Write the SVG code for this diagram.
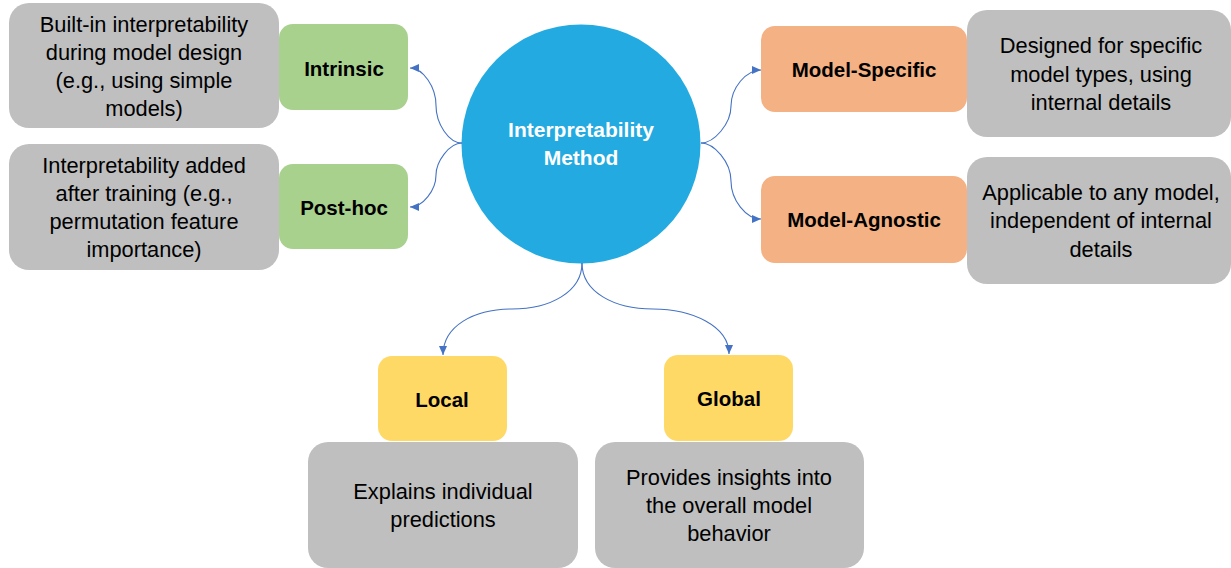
<svg xmlns="http://www.w3.org/2000/svg" width="1231" height="568" viewBox="0 0 1231 568">
<style>
.desc{fill:#BFBFBF}
.green{fill:#A9D18E}
.orange{fill:#F4B183}
.yellow{fill:#FFD966}
.t{font-family:"Liberation Sans",Arial,sans-serif;font-size:21.8px;fill:#000;text-anchor:middle}
.b{font-family:"Liberation Sans",Arial,sans-serif;font-size:20.5px;font-weight:bold;fill:#000;text-anchor:middle}
.w{font-family:"Liberation Sans",Arial,sans-serif;font-size:21px;font-weight:bold;fill:#fff;text-anchor:middle}
.c{fill:none;stroke:#4472C4;stroke-width:1.1;marker-end:url(#ah)}
</style>
<defs>
<marker id="ah" markerUnits="userSpaceOnUse" markerWidth="10" markerHeight="10" viewBox="0 0 10 10" refX="9" refY="5" orient="auto">
<path d="M0,1 L9,5 L0,9 Z" fill="#4472C4"/>
</marker>
</defs>
<rect width="1231" height="568" fill="#fff"/>
<g id="center">
<circle cx="581" cy="144" r="119.5" fill="#23AAE1"/>
<text class="w" x="581" y="137">Interpretability</text>
<text class="w" x="581" y="165">Method</text>
</g>
<g id="connectors">
<path class="c" d="M462,143 C449,143 436,124 436,105.5 C436,87 423,68 410,68"/>
<path class="c" d="M462,143 C449,143 436,162 436,175 C436,190 423,207 410,207"/>
<path class="c" d="M701,143 C714,143 731,124 731,106 C731,88 746,70 761,70"/>
<path class="c" d="M701,143 C714,143 731,162 731,181 C731,200 746,219 761,219"/>
<path class="c" d="M582,263 C582,292 550,309 512,309 C474,309 443,326 443,355"/>
<path class="c" d="M582,263 C582,292 614,309 653,309 C692,309 729,326 729,354"/>
</g>
<g id="intrinsic-desc">
<rect class="desc" x="9" y="3" width="270" height="125" rx="20"/>
<text class="t" x="144" y="32">Built-in interpretability</text>
<text class="t" x="144" y="60">during model design</text>
<text class="t" x="144" y="88">(e.g., using simple</text>
<text class="t" x="144" y="116">models)</text>
</g>
<g id="posthoc-desc">
<rect class="desc" x="9" y="144" width="270" height="126" rx="20"/>
<text class="t" x="144" y="173">Interpretability added</text>
<text class="t" x="144" y="201">after training (e.g.,</text>
<text class="t" x="144" y="229">permutation feature</text>
<text class="t" x="144" y="257">importance)</text>
</g>
<g id="intrinsic">
<rect class="green" x="279" y="24" width="129" height="86" rx="14"/>
<text class="b" x="344" y="76">Intrinsic</text>
</g>
<g id="posthoc">
<rect class="green" x="279" y="164" width="129" height="85" rx="14"/>
<text class="b" x="344" y="215">Post-hoc</text>
</g>
<g id="model-specific">
<rect class="orange" x="761" y="26" width="206" height="86" rx="14"/>
<text class="b" x="864" y="77">Model-Specific</text>
</g>
<g id="model-agnostic">
<rect class="orange" x="761" y="176" width="206" height="87" rx="14"/>
<text class="b" x="864" y="227">Model-Agnostic</text>
</g>
<g id="specific-desc">
<rect class="desc" x="967" y="10" width="264" height="127" rx="20"/>
<text class="t" x="1101" y="53">Designed for specific</text>
<text class="t" x="1101" y="82">model types, using</text>
<text class="t" x="1101" y="110">internal details</text>
</g>
<g id="agnostic-desc">
<rect class="desc" x="967" y="157" width="264" height="127" rx="20"/>
<text class="t" x="1101" y="200">Applicable to any model,</text>
<text class="t" x="1101" y="228">independent of internal</text>
<text class="t" x="1101" y="257">details</text>
</g>
<g id="local">
<rect class="yellow" x="378" y="356" width="129" height="85" rx="14"/>
<text class="b" x="442" y="407">Local</text>
</g>
<g id="global">
<rect class="yellow" x="664" y="355" width="129" height="86" rx="14"/>
<text class="b" x="729" y="406">Global</text>
</g>
<g id="local-desc">
<rect class="desc" x="308" y="442" width="270" height="126" rx="20"/>
<text class="t" x="443" y="499">Explains individual</text>
<text class="t" x="443" y="527">predictions</text>
</g>
<g id="global-desc">
<rect class="desc" x="595" y="442" width="269" height="126" rx="20"/>
<text class="t" x="729" y="485">Provides insights into</text>
<text class="t" x="729" y="513">the overall model</text>
<text class="t" x="729" y="541">behavior</text>
</g>
</svg>
